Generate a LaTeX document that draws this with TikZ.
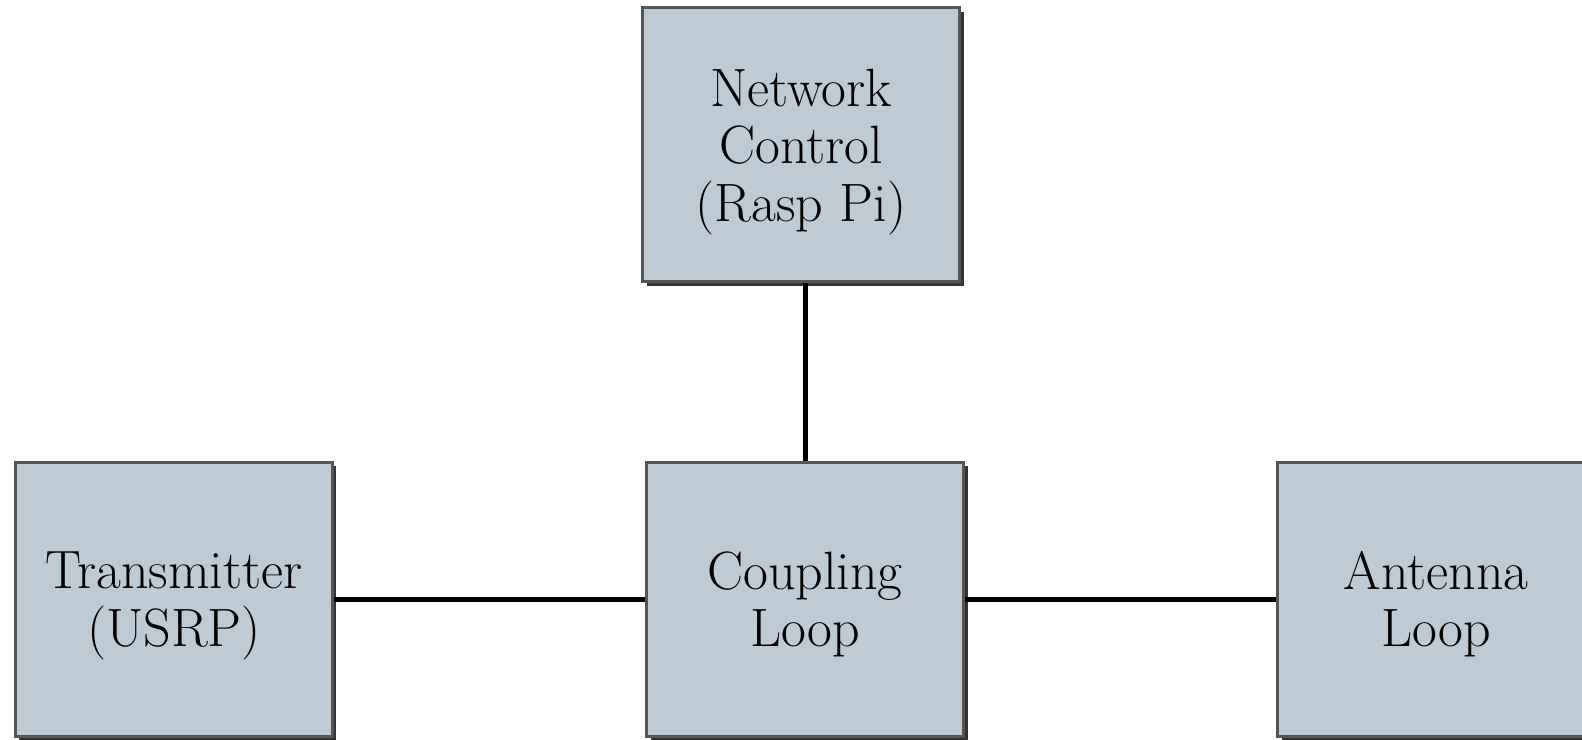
\documentclass[tikz,border=0pt]{standalone}
\usepackage{tikz}
\usetikzlibrary{
positioning,
graphs,
shadows,
}
\definecolor{boxfill}{RGB}{190,202,212}
\definecolor{boxline}{RGB}{85,85,85}
\tikzset{
node distance=88.5pt and 155.5pt,
outer sep=auto,
every node/.style={align=center, font=\fontsize{27}{28.7}\selectfont},
block/.style={rectangle, draw=boxline, line width=1.5pt, fill=boxfill,
  minimum width=158.5pt, minimum height=137pt, text depth=-3pt,
  drop shadow={shadow xshift=2pt, shadow yshift=-2pt, fill=black, opacity=0.8}},
link/.style={line width=2.5pt},
}
\begin{document}
\begin{tikzpicture}
\useasboundingbox (-402.5pt,-70pt) rectangle (388.5pt,299.5pt);
\node (cpl) [block] {Coupling\\Loop};
\node (ctl) [block, above=of cpl, xshift=-2pt] {Network\\Control\\(Rasp Pi)};
\node (tx) [block, left=of cpl] {Transmitter\\(USRP)};
\node (ant) [block, right=of cpl] {Antenna\\Loop};
\draw [link] (cpl.north) -- (cpl.north |- ctl.south);
\graph [use existing nodes, edges={link}] {
    tx -- cpl -- ant;
};
\end{tikzpicture}
\end{document}
